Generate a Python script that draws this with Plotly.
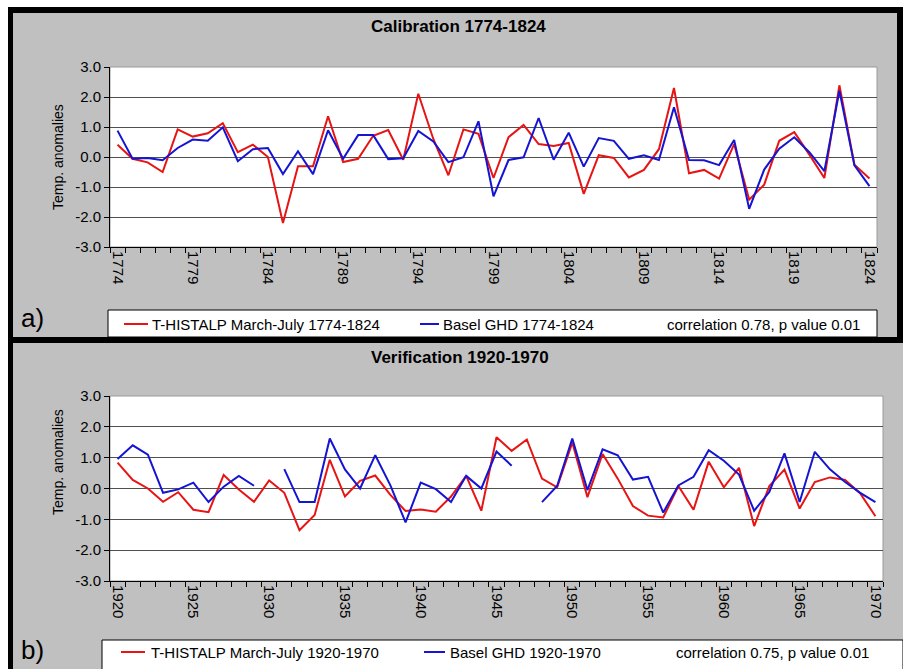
import plotly.graph_objects as go

# ---------------- data ----------------
years_cal = list(range(1774, 1825))
histalp_cal = [0.41, -0.06, -0.18, -0.50, 0.92, 0.68, 0.79, 1.13, 0.16, 0.41, 0.00, -2.20, -0.31,
               -0.31, 1.36, -0.17, -0.06, 0.71, 0.90, -0.09, 2.11, 0.60, -0.61, 0.92, 0.77,
               -0.70, 0.66, 1.07, 0.43, 0.37, 0.47, -1.23, 0.06, -0.03, -0.68, -0.43, 0.26, 2.30,
               -0.54, -0.43, -0.72, 0.43, -1.42, -0.92, 0.54, 0.83, 0.08, -0.70, 2.39, -0.26, -0.72]
basel_cal = [0.88, -0.06, -0.03, -0.11, 0.30, 0.58, 0.54, 0.99, -0.14, 0.26, 0.30, -0.57, 0.19,
             -0.57, 0.89, -0.06, 0.73, 0.73, -0.07, -0.04, 0.87, 0.52, -0.17, -0.01, 1.19,
             -1.31, -0.10, -0.01, 1.30, -0.09, 0.81, -0.32, 0.63, 0.54, -0.06, 0.06, -0.10, 1.66,
             -0.10, -0.11, -0.27, 0.57, -1.73, -0.42, 0.28, 0.66, 0.16, -0.47, 2.21, -0.28, -0.97]

years_ver = list(range(1920, 1971))
histalp_ver = [0.84, 0.28, 0.00, -0.43, -0.12, -0.69, -0.77, 0.44, -0.03, -0.43, 0.26, -0.14, -1.35,
               -0.86, 0.93, -0.26, 0.25, 0.42, -0.21, -0.73, -0.68, -0.75, -0.26, 0.41, -0.72,
               1.66, 1.22, 1.59, 0.32, 0.04, 1.49, -0.28, 1.12, 0.32, -0.57, -0.88, -0.94, 0.08,
               -0.69, 0.87, 0.04, 0.67, -1.22, 0.08, 0.61, -0.65, 0.21, 0.36, 0.28, -0.16, -0.90]
basel_ver = [0.96, 1.40, 1.10, -0.14, -0.03, 0.19, -0.44, 0.06, 0.41, 0.09, None, 0.63, -0.44,
             -0.44, 1.62, 0.62, 0.00, 1.08, 0.10, -1.10, 0.19, -0.02, -0.44, 0.41, 0.00,
             1.20, 0.74, None, -0.44, 0.08, 1.62, -0.05, 1.27, 1.08, 0.29, 0.38, -0.78, 0.10,
             0.38, 1.24, 0.90, 0.45, -0.72, -0.11, 1.14, -0.44, 1.19, 0.62, 0.21, -0.14, -0.44]

y_tickvals = [3, 2, 1, 0, -1, -2, -3]
y_ticktext = ["3.0", "2.0", "1.0", "0.0", "-1.0", "-2.0", "-3.0"]

names_cal = ["T-HISTALP March-July 1774-1824", "Basel GHD 1774-1824"]
names_ver = ["T-HISTALP March-July 1920-1970", "Basel GHD 1920-1970"]
corr_cal = "correlation 0.78, p value 0.01"
corr_ver = "correlation 0.75, p value 0.01"
title_cal = "Calibration 1774-1824"
title_ver = "Verification 1920-1970"
y_title = "Temp. anomalies"

RED = "#e81414"
BLUE = "#1414d2"
GREY = "#c0c0c0"
FONT = "Liberation Sans, Arial, sans-serif"

W, H = 903, 669


def fx(x):
    return x / W


def fy(y):
    return 1 - y / H


fig = go.Figure()

fig.add_trace(go.Scatter(x=years_cal, y=histalp_cal, mode="lines", name=names_cal[0],
                         line=dict(color=RED, width=2), xaxis="x", yaxis="y"))
fig.add_trace(go.Scatter(x=years_cal, y=basel_cal, mode="lines", name=names_cal[1],
                         line=dict(color=BLUE, width=2), xaxis="x", yaxis="y"))
fig.add_trace(go.Scatter(x=years_ver, y=histalp_ver, mode="lines", name=names_ver[0],
                         line=dict(color=RED, width=2), xaxis="x2", yaxis="y2"))
fig.add_trace(go.Scatter(x=years_ver, y=basel_ver, mode="lines", name=names_ver[1],
                         line=dict(color=BLUE, width=2), connectgaps=False, xaxis="x2", yaxis="y2"))

# plot area pixel boxes
top_box = (110, 67, 877, 247)
bot_box = (110, 396, 883, 581)


def xaxis_cfg(years, box, anchor):
    return dict(
        domain=[fx(box[0]), fx(box[2])], anchor=anchor, automargin=False,
        range=[years[0] - 0.5, years[-1] + 0.5],
        tickmode="array", tickvals=years[::5], ticktext=[str(v) for v in years[::5]],
        tickangle=90, ticks="", showgrid=False, zeroline=False,
        showline=True, linecolor="black", linewidth=1,
        tickfont=dict(family=FONT, size=15, color="black"),
        minor=dict(tickmode="array", tickvals=[v - 0.5 for v in years] + [years[-1] + 0.5],
                   ticks="outside", ticklen=5, tickcolor="black", tickwidth=1, showgrid=False),
        fixedrange=True,
    )


def yaxis_cfg(box, anchor):
    return dict(
        domain=[fy(box[3]), fy(box[1])], anchor=anchor, automargin=False,
        range=[-3, 3], tickmode="array", tickvals=y_tickvals, ticktext=y_ticktext,
        ticks="outside", ticklen=5, tickcolor="black",
        showgrid=True, gridcolor="#505050", gridwidth=1, zeroline=False,
        showline=True, linecolor="black", linewidth=1,
        tickfont=dict(family=FONT, size=15, color="black"),
        fixedrange=True,
    )


shapes = []
# white outer strip and black frame
shapes.append(dict(type="rect", xref="paper", yref="paper", x0=0, x1=fx(8), y0=0, y1=1,
                   fillcolor="white", line=dict(width=0), layer="below"))
shapes.append(dict(type="rect", xref="paper", yref="paper", x0=0, x1=1, y0=fy(7), y1=1,
                   fillcolor="white", line=dict(width=0), layer="below"))
for (x0, y0, x1, y1) in [(8, 7, 13, 669), (8, 7, 903, 13), (8, 337, 903, 343), (897, 7, 903, 343)]:
    shapes.append(dict(type="rect", xref="paper", yref="paper", x0=fx(x0), x1=fx(x1),
                       y0=fy(y1), y1=fy(y0), fillcolor="black", line=dict(width=0), layer="below"))
# plot area backgrounds with grey border
for b in (top_box, bot_box):
    shapes.append(dict(type="rect", xref="paper", yref="paper", x0=fx(b[0]), x1=fx(b[2]),
                       y0=fy(b[3]), y1=fy(b[1]), fillcolor="white",
                       line=dict(color="#9a9a9a", width=1), layer="below"))
# legend boxes
for (x0, y0, x1, y1) in [(108, 310, 877, 337), (102, 640, 903, 670)]:
    shapes.append(dict(type="rect", xref="paper", yref="paper", x0=fx(x0), x1=fx(x1),
                       y0=fy(y1), y1=fy(y0), fillcolor="white", line=dict(color="black", width=1),
                       layer="below"))

annotations = []


def text(x, y, s, size, bold=False, anchor="left", angle=0):
    annotations.append(dict(xref="paper", yref="paper", x=fx(x), y=fy(y), text=("<b>%s</b>" % s) if bold else s,
                            showarrow=False, xanchor=anchor, yanchor="middle", textangle=angle,
                            font=dict(family=FONT, size=size, color="black")))


# legend entries
legend_rows = [
    (324, names_cal, corr_cal, (124, 148, 150), (420, 439, 441), 665),
    (652, names_ver, corr_ver, (121, 145, 149), (424, 445, 448), 674),
]
for (yy, names, corr, rpos, bpos, cx) in legend_rows:
    shapes.append(dict(type="line", xref="paper", yref="paper", x0=fx(rpos[0]), x1=fx(rpos[1]),
                       y0=fy(yy), y1=fy(yy), line=dict(color=RED, width=2)))
    shapes.append(dict(type="line", xref="paper", yref="paper", x0=fx(bpos[0]), x1=fx(bpos[1]),
                       y0=fy(yy), y1=fy(yy), line=dict(color=BLUE, width=2)))
    text(rpos[2], yy, names[0], 15)
    text(bpos[2], yy, names[1], 15)
    text(cx, yy, corr, 15)

text(458, 26, title_cal, 17, bold=True, anchor="center")
text(460, 358, title_ver, 17, bold=True, anchor="center")
text(58, 157, y_title, 14, anchor="center", angle=-90)
text(58, 462, y_title, 14, anchor="center", angle=-90)
text(19, 318, "a)", 26)
text(19, 650, "b)", 26)

fig.update_layout(
    width=W, height=H, margin=dict(l=0, r=0, t=0, b=0, pad=0), autosize=False,
    paper_bgcolor=GREY, plot_bgcolor="rgba(0,0,0,0)",
    showlegend=False,
    xaxis=xaxis_cfg(years_cal, top_box, "y"),
    yaxis=yaxis_cfg(top_box, "x"),
    xaxis2=xaxis_cfg(years_ver, bot_box, "y2"),
    yaxis2=yaxis_cfg(bot_box, "x2"),
    shapes=shapes, annotations=annotations,
    font=dict(family=FONT, color="black"),
)

fig.write_html("out.html", config=dict(displayModeBar=False, responsive=False),
               post_script="document.body.style.margin='0';document.body.style.overflow='hidden';")
